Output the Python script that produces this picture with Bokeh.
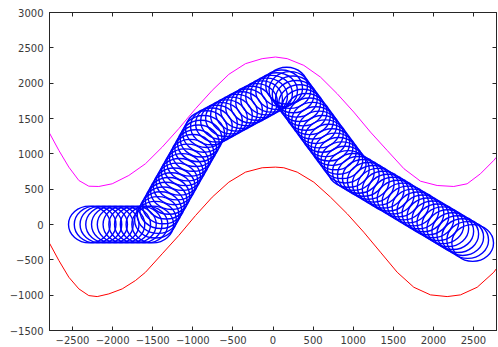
from bokeh.plotting import figure
from bokeh.models import LinearAxis, Range1d, FixedTicker
from bokeh.embed import file_html
from bokeh.resources import INLINE

x_ticks = [-2500, -2000, -1500, -1000, -500, 0, 500, 1000, 1500, 2000, 2500]
y_ticks = [-1500, -1000, -500, 0, 500, 1000, 1500, 2000, 2500, 3000]

red_x = [-2787, -2670, -2546, -2421, -2297, -2192, -2047, -1880, -1715, -1590, -1382, -1175,
         -966, -758, -551, -343, -135, 31, 135, 302, 509, 717, 925, 1132, 1340, 1549, 1756,
         1964, 2172, 2338, 2546, 2753, 2787]
red_y = [-265, -510, -746, -911, -1006, -1020, -982, -911, -793, -676, -415, -156,
         127, 387, 599, 741, 803, 812, 803, 741, 599, 387, 152, -109, -392, -676, -888,
         -996, -1020, -996, -888, -676, -623]

mag_x = [-2787, -2670, -2546, -2421, -2297, -2172, -2005, -1798, -1590, -1382, -1175, -966,
         -758, -551, -343, -135, 31, 177, 384, 592, 800, 1007, 1216, 1424, 1633, 1839, 2047,
         2254, 2421, 2587, 2753, 2787]
mag_y = [1293, 1048, 812, 623, 542, 538, 576, 694, 860, 1095, 1356, 1639,
         1898, 2125, 2276, 2347, 2370, 2347, 2252, 2086, 1851, 1591, 1307, 1048, 789, 613, 552,
         538, 576, 718, 907, 953]

disc_x = [-2290, -2218, -2146, -2075, -2003, -1931, -1859, -1787, -1716, -1644, -1572,
          -1500, -1466, -1433, -1400, -1366, -1332, -1299, -1266, -1232, -1198,
          -1165, -1132, -1098, -1064, -1031, -998, -964, -930, -897, -864,
          -830, -768, -705, -642, -580, -518, -455, -392, -330, -268, -205, -142,
          -80, -18, 45, 108,
          170, 211, 251, 292, 332, 373, 413, 454, 494, 535, 575, 616, 656, 697,
          737, 778, 818, 859, 900,
          940, 1002, 1064, 1126, 1188, 1250, 1312, 1374, 1436, 1498, 1560, 1622, 1684,
          1746, 1808, 1870, 1932, 1994, 2056, 2118, 2180, 2242, 2304, 2366, 2428, 2490]
disc_y = [0, 0, 0, 0, 0, 0, 0, 0, 0, 0, 0,
          0, 68, 135, 203, 270, 338, 405, 473, 540, 608,
          675, 743, 810, 878, 945, 1013, 1080, 1148, 1215, 1283,
          1350, 1388, 1427, 1465, 1504, 1542, 1581, 1619, 1658, 1696, 1734, 1773,
          1811, 1850, 1888, 1927,
          1965, 1903, 1841, 1779, 1717, 1655, 1593, 1531, 1469, 1407, 1344, 1282, 1220, 1158,
          1096, 1034, 972, 910, 848,
          786, 744, 702, 660, 618, 576, 534, 493, 451, 409, 367, 325, 283,
          241, 199, 157, 115, 73, 31, -11, -52, -94, -136, -178, -220, -262]
disc_r = 260

AX = "#262626"
FONT = "DejaVu Sans"

p = figure(frame_width=447, frame_height=318,
           x_range=Range1d(-2787, 2787), y_range=Range1d(-1500, 3000),
           output_backend="svg", toolbar_location=None,
           min_border_left=49, min_border_top=12, min_border_right=2, min_border_bottom=17,
           background_fill_color="white", border_fill_color="white")
p.xgrid.visible = False
p.ygrid.visible = False
p.outline_line_color = AX

for ax, ticks in ((p.xaxis[0], x_ticks), (p.yaxis[0], y_ticks)):
    ax.ticker = FixedTicker(ticks=ticks)
    ax.major_tick_in = 4
    ax.major_tick_out = 0
    ax.minor_tick_line_color = None
    ax.axis_line_color = AX
    ax.major_tick_line_color = AX
    ax.major_label_text_color = "#3a3a3a"
    ax.major_label_text_font = FONT
    ax.major_label_text_font_size = "10px"
p.xaxis[0].major_label_standoff = 5
p.yaxis[0].major_label_standoff = 6

for loc, ticks in (("above", x_ticks), ("right", y_ticks)):
    ax = LinearAxis(ticker=FixedTicker(ticks=ticks))
    ax.major_tick_in = 4
    ax.major_tick_out = 0
    ax.minor_tick_line_color = None
    ax.axis_line_color = AX
    ax.major_tick_line_color = AX
    ax.major_label_text_font_size = "0px"
    ax.major_label_overrides = {t: "" for t in ticks}
    ax.major_label_standoff = 0
    p.add_layout(ax, loc)

p.line(mag_x, mag_y, line_color="#ff00ff", line_width=1)
p.line(red_x, red_y, line_color="#ff0000", line_width=1)
p.ellipse(x=disc_x, y=disc_y, width=2 * disc_r, height=2 * disc_r,
          fill_color=None, line_color="#0000ff", line_width=1.4)

open("out.html", "w").write(file_html(p, INLINE))
